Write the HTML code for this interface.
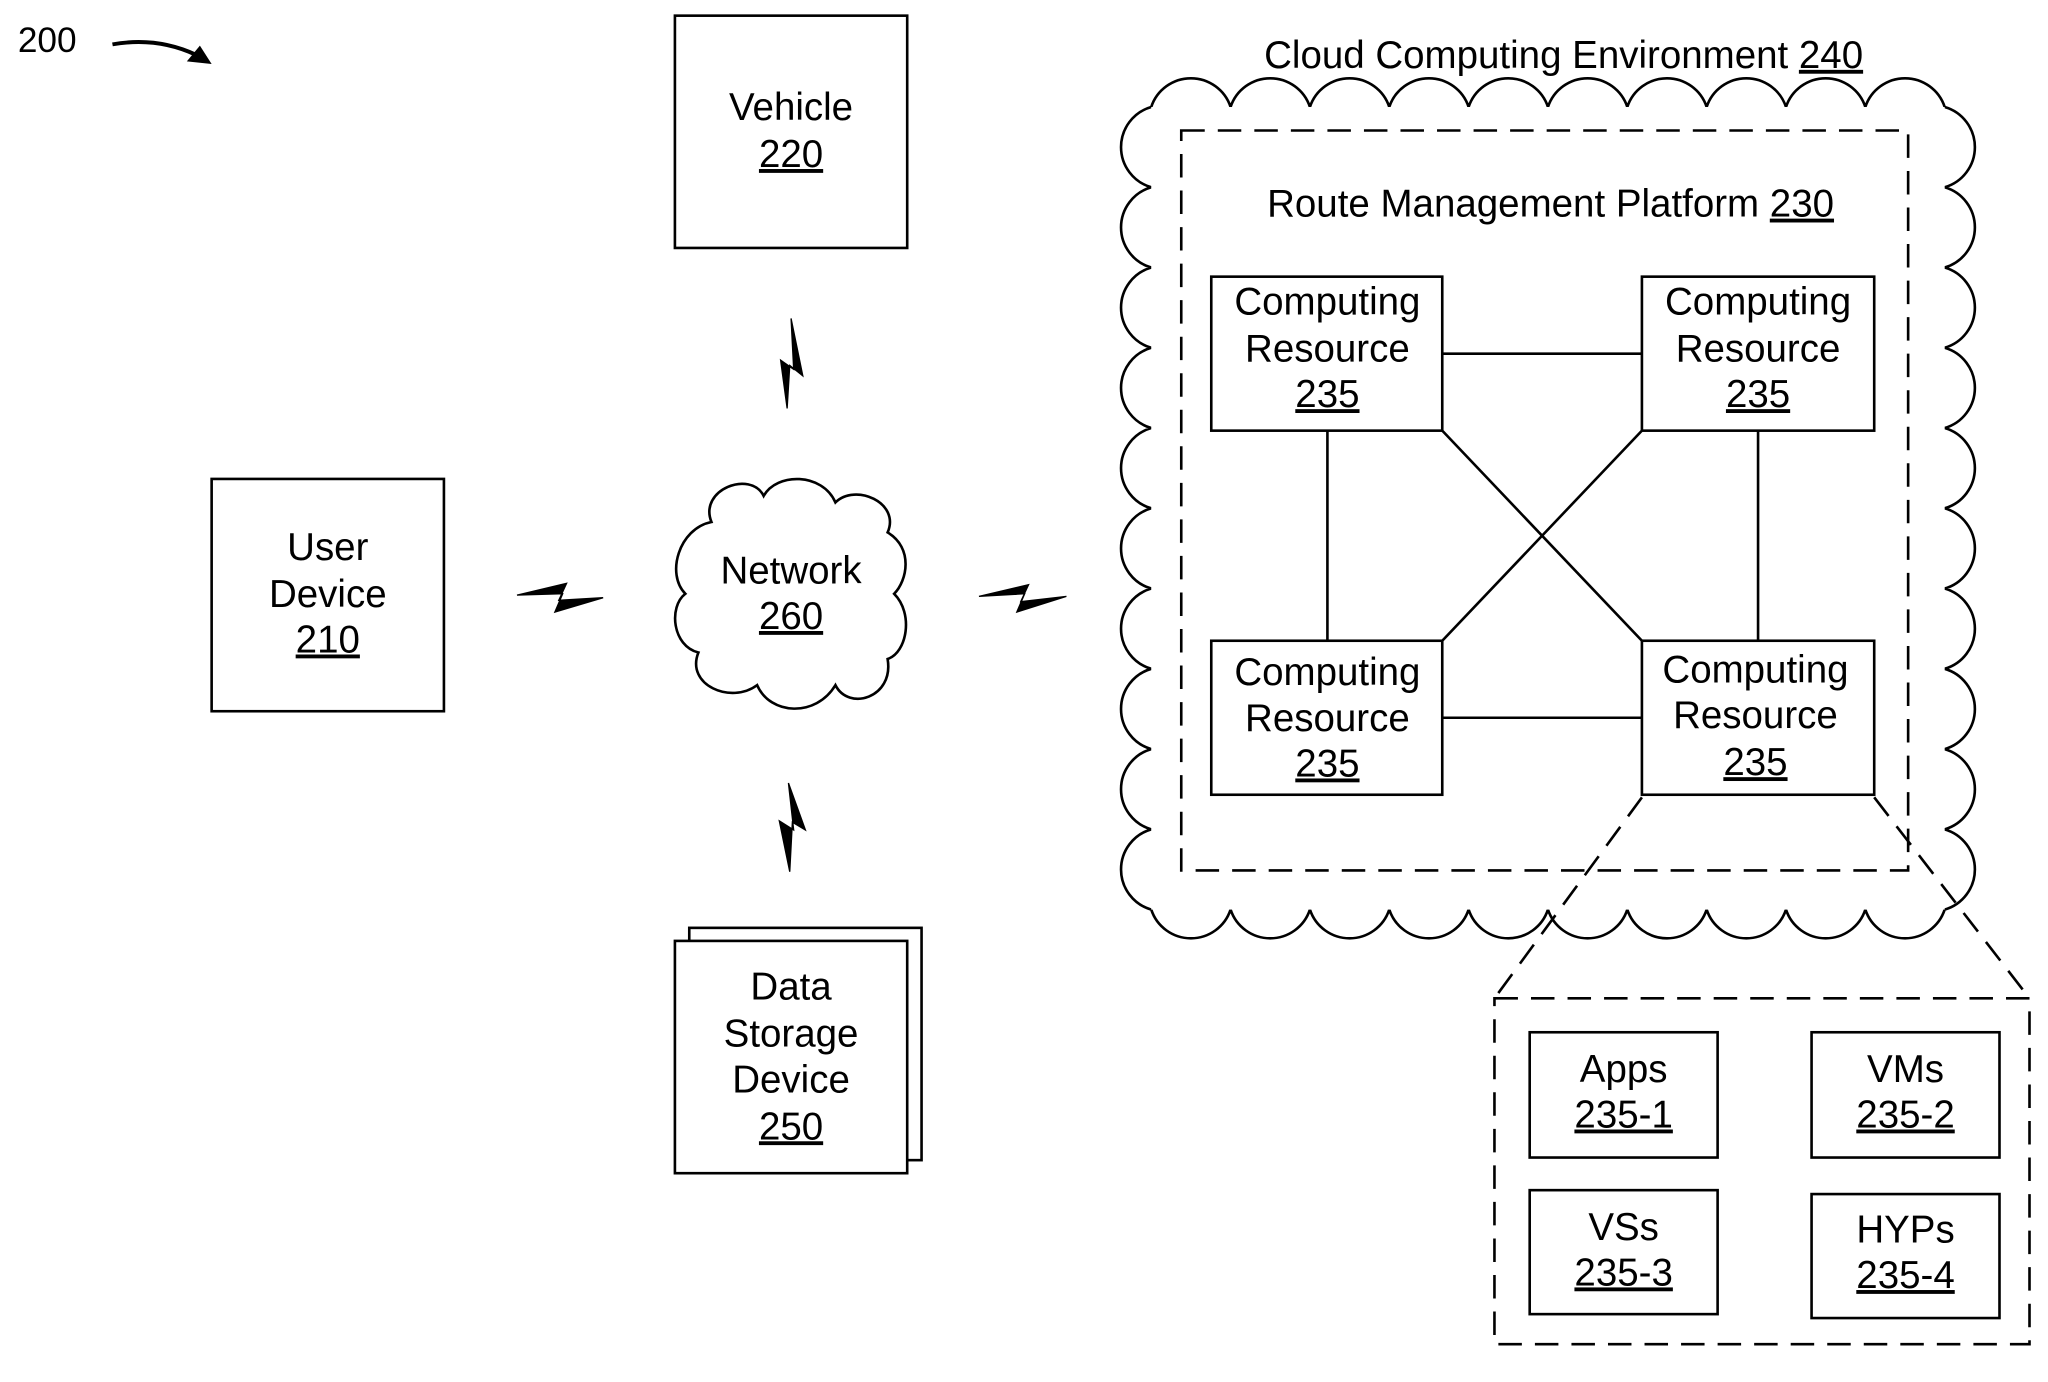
<!DOCTYPE html>
<html><head><meta charset="utf-8"><style>
html,body{margin:0;padding:0;background:#fff}
svg{display:block}
text{font-family:"Liberation Sans",Arial,sans-serif;font-size:29.5px;fill:#000;text-anchor:middle}
.u{text-decoration:underline}
</style></head><body>
<svg width="2048" height="1382" viewBox="0 0 1569 1059" xmlns="http://www.w3.org/2000/svg">
<g fill="none" stroke="#000" stroke-width="2">
<path d="M86,34 Q120,28 150,42" stroke-width="3"/>
</g>
<polygon points="162,49 143,47 153,35" fill="#000"/>
<text x="36" y="40" style="font-size:27px">200</text>

<g fill="#fff" stroke="#000" stroke-width="2">
<rect x="517" y="12" width="178" height="178"/>
<rect x="162" y="367" width="178" height="178"/>
<rect x="528" y="711" width="178" height="178"/>
<rect x="517" y="721" width="178" height="178"/>
</g>
<text x="606" y="92">Vehicle</text><text x="606" y="128" class="u">220</text>
<text x="251" y="429">User</text><text x="251" y="465">Device</text><text x="251" y="500" class="u">210</text>
<text x="606" y="766">Data</text><text x="606" y="802">Storage</text><text x="606" y="837">Device</text><text x="606" y="873" class="u">250</text>

<path fill="#fff" stroke="#000" stroke-width="2" d="M545,400 C535,375 575,360 585,380 C595,362 630,362 640,385 C655,370 690,385 680,408 C700,420 695,445 685,455 C700,470 695,500 680,505 C685,535 650,545 640,525 C625,550 590,548 580,525 C560,540 525,525 535,500 C515,495 512,465 525,455 C510,440 520,405 545,400 Z"/>
<text x="606" y="447">Network</text><text x="606" y="482" class="u">260</text>

<g fill="#000" stroke="#000" stroke-width="1">
<path d="M606,244 L615,288 L605,280 L603,313 L598,276 L608,283 Z"/>
<path d="M604,600 L617,636 L607,630 L605,668 L597,629 L608,636 Z"/>
<path d="M396,456 L434,447 L428,460 L462,458 L425,469 L431,455 Z"/>
<path d="M750,457 L788,448 L782,461 L817,457 L779,469 L785,455 Z"/>
</g>

<path fill="#fff" stroke="#000" stroke-width="2" d="M882,82
 a32,32 0 0 1 60.8,0 a32,32 0 0 1 60.8,0 a32,32 0 0 1 60.8,0 a32,32 0 0 1 60.8,0 a32,32 0 0 1 60.8,0 a32,32 0 0 1 60.8,0 a32,32 0 0 1 60.8,0 a32,32 0 0 1 60.8,0 a32,32 0 0 1 60.8,0 a32,32 0 0 1 60.8,0
 a32,32 0 0 1 0,61.5 a32,32 0 0 1 0,61.5 a32,32 0 0 1 0,61.5 a32,32 0 0 1 0,61.5 a32,32 0 0 1 0,61.5 a32,32 0 0 1 0,61.5 a32,32 0 0 1 0,61.5 a32,32 0 0 1 0,61.5 a32,32 0 0 1 0,61.5 a32,32 0 0 1 0,61.5
 a32,32 0 0 1 -60.8,0 a32,32 0 0 1 -60.8,0 a32,32 0 0 1 -60.8,0 a32,32 0 0 1 -60.8,0 a32,32 0 0 1 -60.8,0 a32,32 0 0 1 -60.8,0 a32,32 0 0 1 -60.8,0 a32,32 0 0 1 -60.8,0 a32,32 0 0 1 -60.8,0 a32,32 0 0 1 -60.8,0
 a32,32 0 0 1 0,-61.5 a32,32 0 0 1 0,-61.5 a32,32 0 0 1 0,-61.5 a32,32 0 0 1 0,-61.5 a32,32 0 0 1 0,-61.5 a32,32 0 0 1 0,-61.5 a32,32 0 0 1 0,-61.5 a32,32 0 0 1 0,-61.5 a32,32 0 0 1 0,-61.5 a32,32 0 0 1 0,-61.5 Z"/>
<rect x="882" y="82" width="608" height="615" fill="#fff"/>
<text x="1198" y="52">Cloud Computing Environment <tspan class="u">240</tspan></text>

<g fill="none" stroke="#000" stroke-width="2">
<rect x="905" y="100" width="557" height="567" stroke-dasharray="18,10"/>
<line x1="1105" y1="271" x2="1258" y2="271"/>
<line x1="1105" y1="550" x2="1258" y2="550"/>
<line x1="1017" y1="330" x2="1017" y2="491"/>
<line x1="1347" y1="330" x2="1347" y2="491"/>
<line x1="1105" y1="330" x2="1258" y2="491"/>
<line x1="1258" y1="330" x2="1105" y2="491"/>
<line x1="1258" y1="611" x2="1145" y2="765" stroke-dasharray="18,10"/>
<line x1="1436" y1="611" x2="1555" y2="765" stroke-dasharray="18,10"/>
<rect x="1145" y="765" width="410" height="265" stroke-dasharray="18,10"/>
</g>
<text x="1188" y="166">Route Management Platform <tspan class="u">230</tspan></text>

<g fill="#fff" stroke="#000" stroke-width="2">
<rect x="928" y="212" width="177" height="118"/>
<rect x="1258" y="212" width="178" height="118"/>
<rect x="928" y="491" width="177" height="118"/>
<rect x="1258" y="491" width="178" height="118"/>
<rect x="1172" y="791" width="144" height="96"/>
<rect x="1388" y="791" width="144" height="96"/>
<rect x="1172" y="912" width="144" height="95"/>
<rect x="1388" y="915" width="144" height="95"/>
</g>
<text x="1017" y="241">Computing</text><text x="1017" y="277">Resource</text><text x="1017" y="312" class="u">235</text>
<text x="1347" y="241">Computing</text><text x="1347" y="277">Resource</text><text x="1347" y="312" class="u">235</text>
<text x="1017" y="525">Computing</text><text x="1017" y="560">Resource</text><text x="1017" y="595" class="u">235</text>
<text x="1345" y="523">Computing</text><text x="1345" y="558">Resource</text><text x="1345" y="594" class="u">235</text>

<text x="1244" y="829">Apps</text><text x="1244" y="864" class="u">235-1</text>
<text x="1460" y="829">VMs</text><text x="1460" y="864" class="u">235-2</text>
<text x="1244" y="950">VSs</text><text x="1244" y="985" class="u">235-3</text>
<text x="1460" y="952">HYPs</text><text x="1460" y="987" class="u">235-4</text>
</svg>
</body></html>
